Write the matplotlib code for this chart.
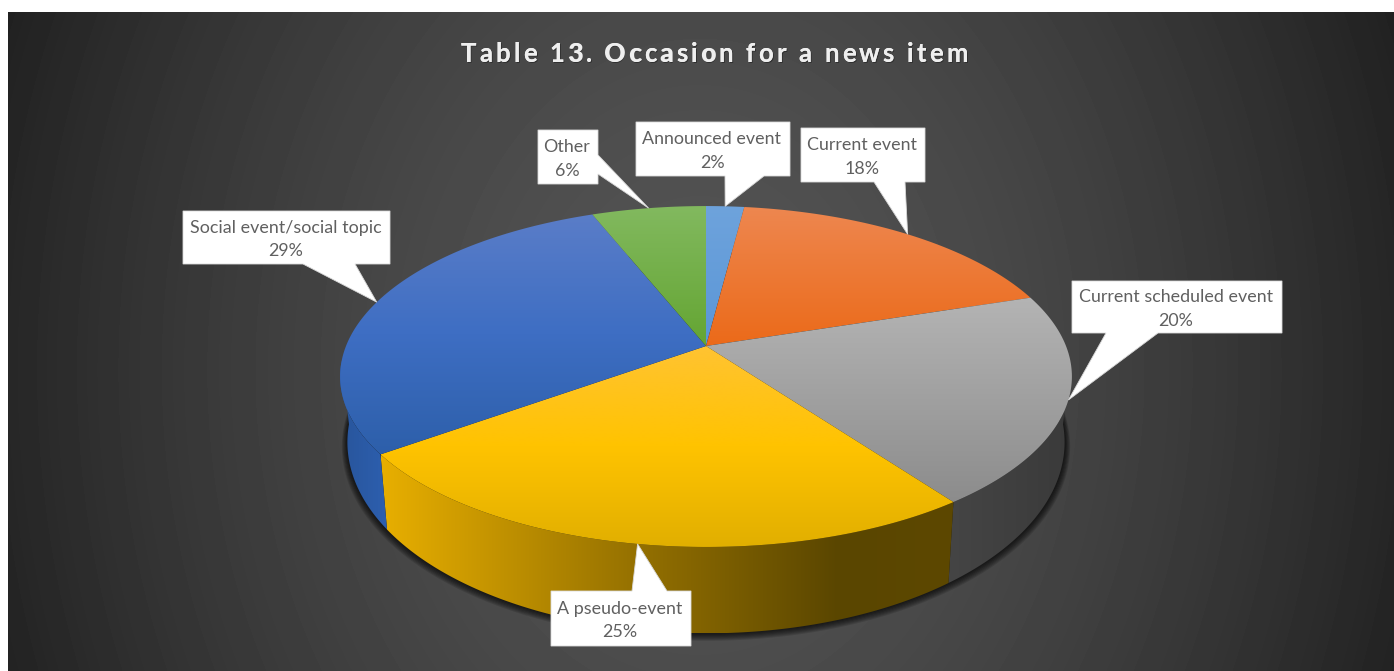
import numpy as np
import matplotlib
matplotlib.use('Agg')
import matplotlib.pyplot as plt
from matplotlib.colors import LinearSegmentedColormap
from matplotlib.patches import Polygon
from matplotlib.text import Text
from matplotlib.transforms import IdentityTransform

title = 'Table 13. Occasion for a news item'
categories = ['Announced event', 'Current event', 'Current scheduled event',
              'A pseudo-event', 'Social event/social topic', 'Other']
shares = [2, 18, 20, 25, 29, 6]

W, H = 1394, 671
CX, CY = 706, 346
# perspective of the disc: k tilts it, the lower ring is the base of the cylinder
A, B, K = 360.0, 165.0, 0.179
BASE_X, BASE_B, BASE_DROP = 0.98, 185.0, 62.0

top_colors = [
    ['#6ea3dc', '#5a96d7'],
    ['#ee8750', '#eb6a19'],
    ['#b4b4b4', '#8c8c8c'],
    ['#ffc332', '#ffc300', '#e1af00'],
    ['#5a7dc8', '#3e6ec3', '#2d5faa'],
    ['#82b95f', '#64a532'],
]
wall_colors = {
    2: ['#454545', '#3a3a3a'],
    3: [(0, '#e8af00'), (0.45, '#947000'), (0.8, '#5a4600'), (1, '#5d4800')],
    4: ['#28559b', '#2d5faf'],
}
# left, top, right, bottom of each callout box and where its pointer leaves the box
boxes = [
    (636, 122, 790, 176, 725, 764),
    (801, 128, 925, 182, 874, 905),
    (1072, 281, 1282, 333, 1106, 1158),
    (551, 591, 691, 646, 632, 667),
    (183, 211, 390, 264, 303, 355),
    (538, 130, 598, 184, 598, 598),
]


class SpacedText(Text):
    # one text artist that draws its letters with extra tracking and a soft shadow
    tracking = 0.0

    def draw(self, renderer):
        x0, y0 = self.get_transform().transform(self.get_position())
        s = self.get_text()
        prop = self.get_fontproperties()
        widths = [renderer.get_text_width_height_descent(s[:i], prop, False)[0] if i else 0
                  for i in range(len(s) + 1)]
        total = widths[-1] + self.tracking * (len(s) - 1)
        layers = ((1.0, -1.0, '#303030'), (0, 0, self.get_color()), (0.4, 0, self.get_color()))
        for dx, dy, color in layers:
            for i, ch in enumerate(s):
                if ch == ' ':
                    continue
                t = Text(x0 - total / 2 + widths[i] + self.tracking * i + dx, y0 + dy, ch,
                         fontproperties=prop, color=color, va='baseline', ha='left',
                         transform=IdentityTransform())
                t.set_figure(self.get_figure())
                t.draw(renderer)


def rim(theta):
    t = np.radians(theta)
    u, v = np.sin(t), np.cos(t)
    w = 1 + K * v
    return np.column_stack([CX + A * u / w, CY - B * v / w])


def base(theta):
    t = np.radians(theta)
    u, v = np.sin(t), np.cos(t)
    w = 1 + K * v
    return np.column_stack([CX + BASE_X * A * u / w, CY + BASE_DROP - BASE_B * v / w])


def fill(ax, pts, colors, horizontal=False, zorder=3):
    # gradient image clipped to the polygon
    x0, y0 = pts.min(axis=0)
    x1, y1 = pts.max(axis=0)
    cmap = LinearSegmentedColormap.from_list('g', colors)
    ramp = np.linspace(0, 1, 256)
    ramp = ramp[None, :] if horizontal else ramp[:, None]
    im = ax.imshow(ramp, cmap=cmap, extent=(x0, x1, y1, y0), aspect='auto', zorder=zorder,
                   interpolation='bilinear')
    poly = Polygon(pts, closed=True, fc='none', ec='none', transform=ax.transData)
    ax.add_patch(poly)
    im.set_clip_path(poly)


fig = plt.figure(figsize=(W / 100, H / 100), dpi=100, facecolor='white')
ax = fig.add_axes([0, 0, 1, 1])
ax.set_axis_off()

# panel background, a wide radial glow
xx, yy = np.meshgrid(np.arange(8, W) + 0.5, np.arange(12, H) + 0.5)
d = np.sqrt(((xx - 700) / 700) ** 2 + ((yy - 370) / 900) ** 2)
glow = np.clip(84 - 46 * d ** 1.6, 30, 90) / 255
ax.imshow(glow, cmap='gray', vmin=0, vmax=1, extent=(8, W, H, 12), aspect='auto', zorder=0)

all_angles = np.linspace(0, 360, 721)
for i in range(1, 8):
    sh = base(all_angles)
    pivot = np.array([CX, CY + BASE_DROP - 30])
    sh = pivot + (sh - pivot) * (1 + i * 0.0022)
    sh[:, 1] += i * 0.5
    ax.add_patch(Polygon(sh, closed=True, fc='black', ec='none', alpha=0.13, zorder=1))

edges = np.concatenate([[0], np.cumsum(shares)]) * 3.6
mids = (edges[:-1] + edges[1:]) / 2

# side walls, only the part that faces the viewer
for i, cols in wall_colors.items():
    a, b = max(edges[i], 95), min(edges[i + 1], 265)
    arc = np.linspace(a, b, 120)
    pts = np.vstack([rim(arc), base(arc[::-1])])
    fill(ax, pts, cols, horizontal=True, zorder=2)

# top faces
for i, cols in enumerate(top_colors):
    arc = np.linspace(edges[i], edges[i + 1], 120)
    pts = np.vstack([[[CX, CY]], rim(arc)])
    fill(ax, pts, cols, zorder=3)

# callouts, the pointer tip sits on the rim at the middle of the slice
tips = rim(mids)
for i, (l, t, r, b, p0, p1) in enumerate(boxes):
    tip = tips[i]
    if categories[i] == 'Other':
        outline = [(l, t), (r, t), (r, t + 25), tip, (r, t + 44), (r, b), (l, b)]
    elif tip[1] < t:
        outline = [(l, t), (p0, t), tip, (p1, t), (r, t), (r, b), (l, b)]
    else:
        outline = [(l, t), (r, t), (r, b), (p1, b), tip, (p0, b), (l, b)]
    ax.add_patch(Polygon(outline, closed=True, fc='white', ec='#d9d9d9', lw=0.6, zorder=5))
    ax.text((l + r) / 2 - 1, (t + b) / 2 + 2, '%s\n%d%%' % (categories[i], shares[i]), ha='center', va='center',
            color='#606060', family='Lato', fontsize=12.9, linespacing=1.58, zorder=6)

st = SpacedText(714, 62, title, family='Lato', weight='bold', fontsize=18.5, color='#efefef',
                transform=ax.transData, zorder=6)
st.tracking = 3.2
ax.add_artist(st)

ax.set_xlim(0, W)
ax.set_ylim(H, 0)
fig.savefig('out.png', dpi=100, facecolor='white')
